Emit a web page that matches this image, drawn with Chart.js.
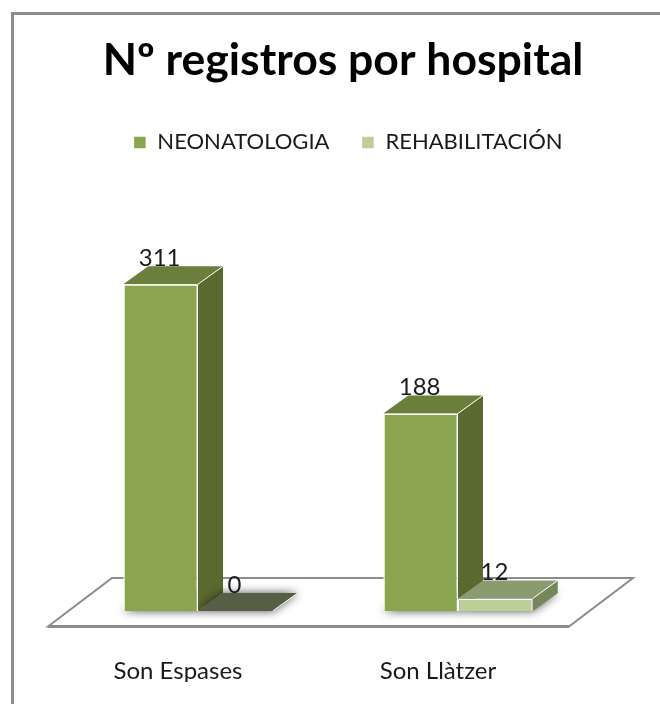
<!DOCTYPE html>
<html>
<head>
<meta charset="utf-8">
<title>Nº registros por hospital</title>
<script src="https://cdn.jsdelivr.net/npm/chart.js@4"></script>
<style>
    html, body { margin: 0; width: 660px; height: 704px; overflow: hidden; background: #fff; }
    #frame { position: absolute; left: 11px; top: 12px; width: 800px; height: 900px; border: 3px solid #8c8c8c; }
    #chart { position: absolute; left: 26px; top: 0; }
</style>
</head>
<body>
<div id="frame"></div>
<canvas id="chart" width="634" height="704"></canvas>
<script>
// Data
const hospitals = ['Son Espases', 'Son Llàtzer'];
const neonatologia = [311, 188];
const rehabilitacion = [0, 12];

// Theme colors: front, top and side face of each series
const colors = {
    neo: { front: '#8ba54e', top: '#697f3b', side: '#59692f' },
    reha: { front: '#bccf96', top: '#8a9b70', side: '#76875a' },
    empty: '#565f45',
    floor: '#8c8c8c',
    text: '#1a1a1a'
};

// Fake 3D depth of the old spreadsheet chart
const depth = { x: 25, y: 18 };

function poly(ctx, pts, fill) {
    ctx.beginPath();
    pts.forEach((p, i) => i ? ctx.lineTo(p[0], p[1]) : ctx.moveTo(p[0], p[1]));
    ctx.closePath();
    if (fill) {
        ctx.fillStyle = fill;
        ctx.fill();
    }
}

// Floor, soft shadow and the top/side faces, all behind the front faces
const box3d = {
    id: 'box3d',
    afterLayout(chart) {
        // legend sits a little right of the title in the original
        chart.legend.left += 5;
        chart.legend.right += 5;
    },
    beforeDatasetsDraw(chart) {
        const ctx = chart.ctx;
        const area = chart.chartArea;
        const base = chart.scales.y.getPixelForValue(0);

        ctx.save();
        ctx.strokeStyle = colors.floor;
        ctx.lineWidth = 2;
        poly(ctx, [
            [area.left - 20, base + 15.5],
            [area.left + 44, base - 33],
            [area.right + 45, base - 33],
            [area.right - 19, base + 15.5]
        ]);
        ctx.stroke();
        ctx.lineWidth = 3;
        ctx.beginPath();
        ctx.moveTo(area.left - 20, base + 15.5);
        ctx.lineTo(area.right - 19, base + 15.5);
        ctx.stroke();
        ctx.restore();

        chart.data.datasets.forEach((ds, d) => {
            const face = d === 0 ? colors.neo : colors.reha;
            chart.getDatasetMeta(d).data.forEach((bar, i) => {
                const l = bar.x - bar.width / 2;
                const r = bar.x + bar.width / 2;
                const t = bar.y;
                const b = bar.base;
                const flat = ds.data[i] === 0;

                ctx.save();
                ctx.shadowColor = 'rgba(0,0,0,0.7)';
                ctx.shadowBlur = 10;
                poly(ctx, [[l, b], [l + depth.x, b - depth.y], [r + depth.x, b - depth.y], [r, b]], '#888');
                ctx.restore();

                ctx.save();
                ctx.strokeStyle = '#fff';
                ctx.lineWidth = 1;
                const sidePts = [[r, t], [r + depth.x, t - depth.y], [r + depth.x, b - depth.y], [r, b]];
                const topPts = [[l, t], [l + depth.x, t - depth.y], [r + depth.x, t - depth.y], [r, t]];
                poly(ctx, sidePts, face.side);
                poly(ctx, topPts, flat ? colors.empty : face.top);
                ctx.beginPath();
                ctx.moveTo(r, t);
                ctx.lineTo(r + depth.x, t - depth.y);
                ctx.stroke();
                ctx.restore();
            });
        });
    },
    afterDatasetsDraw(chart) {
        // Value labels sit above the front top edge, over the top face
        const ctx = chart.ctx;
        ctx.save();
        ctx.fillStyle = colors.text;
        ctx.font = '24px Lato';
        ctx.textAlign = 'center';
        ctx.textBaseline = 'alphabetic';
        chart.data.datasets.forEach((ds, d) => {
            chart.getDatasetMeta(d).data.forEach((bar, i) => {
                ctx.fillText(ds.data[i], bar.x - 1, bar.y - 18);
            });
        });
        ctx.restore();
    }
};

new Chart(document.getElementById('chart').getContext('2d'), {
    type: 'bar',
    data: {
        labels: hospitals,
        datasets: [
            { label: 'NEONATOLOGIA', data: neonatologia, backgroundColor: colors.neo.front, borderColor: '#fff', borderWidth: 1.5 },
            { label: 'REHABILITACIÓN', data: rehabilitacion, backgroundColor: colors.reha.front, borderColor: '#fff', borderWidth: 1.5 }
        ]
    },
    plugins: [box3d],
    options: {
        responsive: false,
        animation: false,
        layout: { padding: { left: 42, right: 42, bottom: 22 } },
        datasets: { bar: { categoryPercentage: 0.575, barPercentage: 1 } },
        plugins: {
            tooltip: { enabled: false },
            title: {
                display: true,
                text: 'Nº registros por hospital',
                color: '#000',
                font: { family: 'Lato', size: 44.5, weight: 'bold' },
                padding: { top: 34, bottom: 12 }
            },
            legend: {
                display: true,
                labels: {
                    color: colors.text,
                    boxWidth: 13,
                    boxHeight: 13,
                    padding: 32,
                    font: { family: 'Lato', size: 22 }
                }
            }
        },
        scales: {
            x: {
                grid: { display: false, drawTicks: false },
                border: { display: false },
                ticks: { color: colors.text, padding: 46, labelOffset: -20, font: { family: 'Lato', size: 24 } },
                afterFit(scale) { scale.height = 71; }
            },
            y: {
                position: 'right',
                min: 0,
                max: 426,
                grid: { display: false, drawTicks: false },
                border: { display: false },
                ticks: { display: false },
                afterFit(scale) { scale.width = 30; }
            }
        }
    }
});
</script>
</body>
</html>
